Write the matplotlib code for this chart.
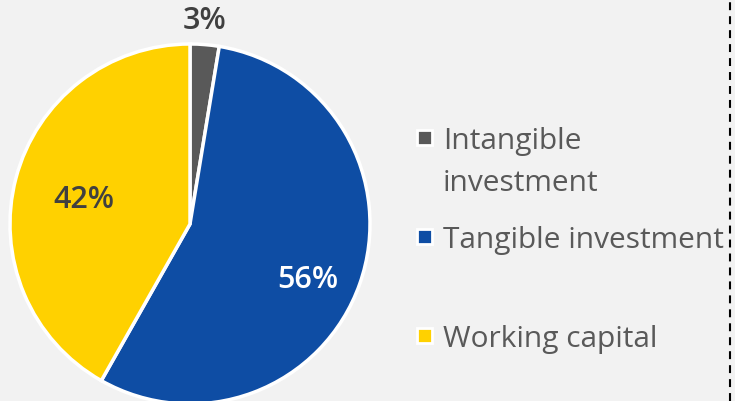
import numpy as np
import matplotlib
matplotlib.use("Agg")
import matplotlib.pyplot as plt
from matplotlib.patches import Rectangle

# ---------- DATA ----------
categories = ["Intangible\ninvestment", "Tangible investment", "Working capital"]
shares = [2.6, 55.6, 41.8]          # % of total
colors = ["#595959", "#0E4DA4", "#FFD100"]
label_colors = ["#404040", "white", "#404040"]
label_radius = [1.136, 0.72, 0.605]  # where each % label sits (fraction of radius)
label_turn = [0.7, -5.5, 1.5]        # small angular nudge off the wedge middle (deg)

plt.rcParams["font.family"] = ["Open Sans", "DejaVu Sans"]

W, H = 735, 402
fig = plt.figure(figsize=(W / 100, H / 100), dpi=100, facecolor="#F2F2F2")
ax = fig.add_axes([0, 0, 1, 1])
ax.set_facecolor("#F2F2F2")

cx, cy, R = 190, H - 225, 180
wedges, _ = ax.pie(shares, colors=colors, startangle=90, counterclock=False,
                   center=(cx, cy), radius=R, frame=True,
                   wedgeprops=dict(edgecolor="white", linewidth=2.5))
ax.set_xlim(0, W)
ax.set_ylim(0, H)
ax.set_aspect("equal")
ax.axis("off")

# percentage labels
for w, v, c, r, t in zip(wedges, shares, label_colors, label_radius, label_turn):
    ang = np.deg2rad((w.theta1 + w.theta2) / 2 + t)
    x = cx + r * R * np.cos(ang)
    y = cy + r * R * np.sin(ang)
    ax.text(x, y, f"{v:.0f}%", ha="center", va="center", fontsize=22,
            fontweight="semibold", color=c)

# legend, laid out by hand (first row wraps onto two lines)
leg_rows_y = [138, 237.5, 336]   # px from top, centre of each square
sq = 15
for lab, c, yy in zip(categories, colors, leg_rows_y):
    ax.add_patch(Rectangle((425 - sq / 2, H - yy - sq / 2), sq, sq,
                           facecolor=c, edgecolor="white", linewidth=2))
    for k, line in enumerate(lab.split("\n")):
        ax.text(443, H - yy - 11 - 42 * k, line, ha="left", va="baseline",
                fontsize=21.5, color="#595959")

# dashed divider on the right
ax.axvline(730, color="black", linestyle=(0, (3.8, 2.9)), linewidth=1.5)

fig.savefig("out.png", dpi=100, facecolor=fig.get_facecolor())
